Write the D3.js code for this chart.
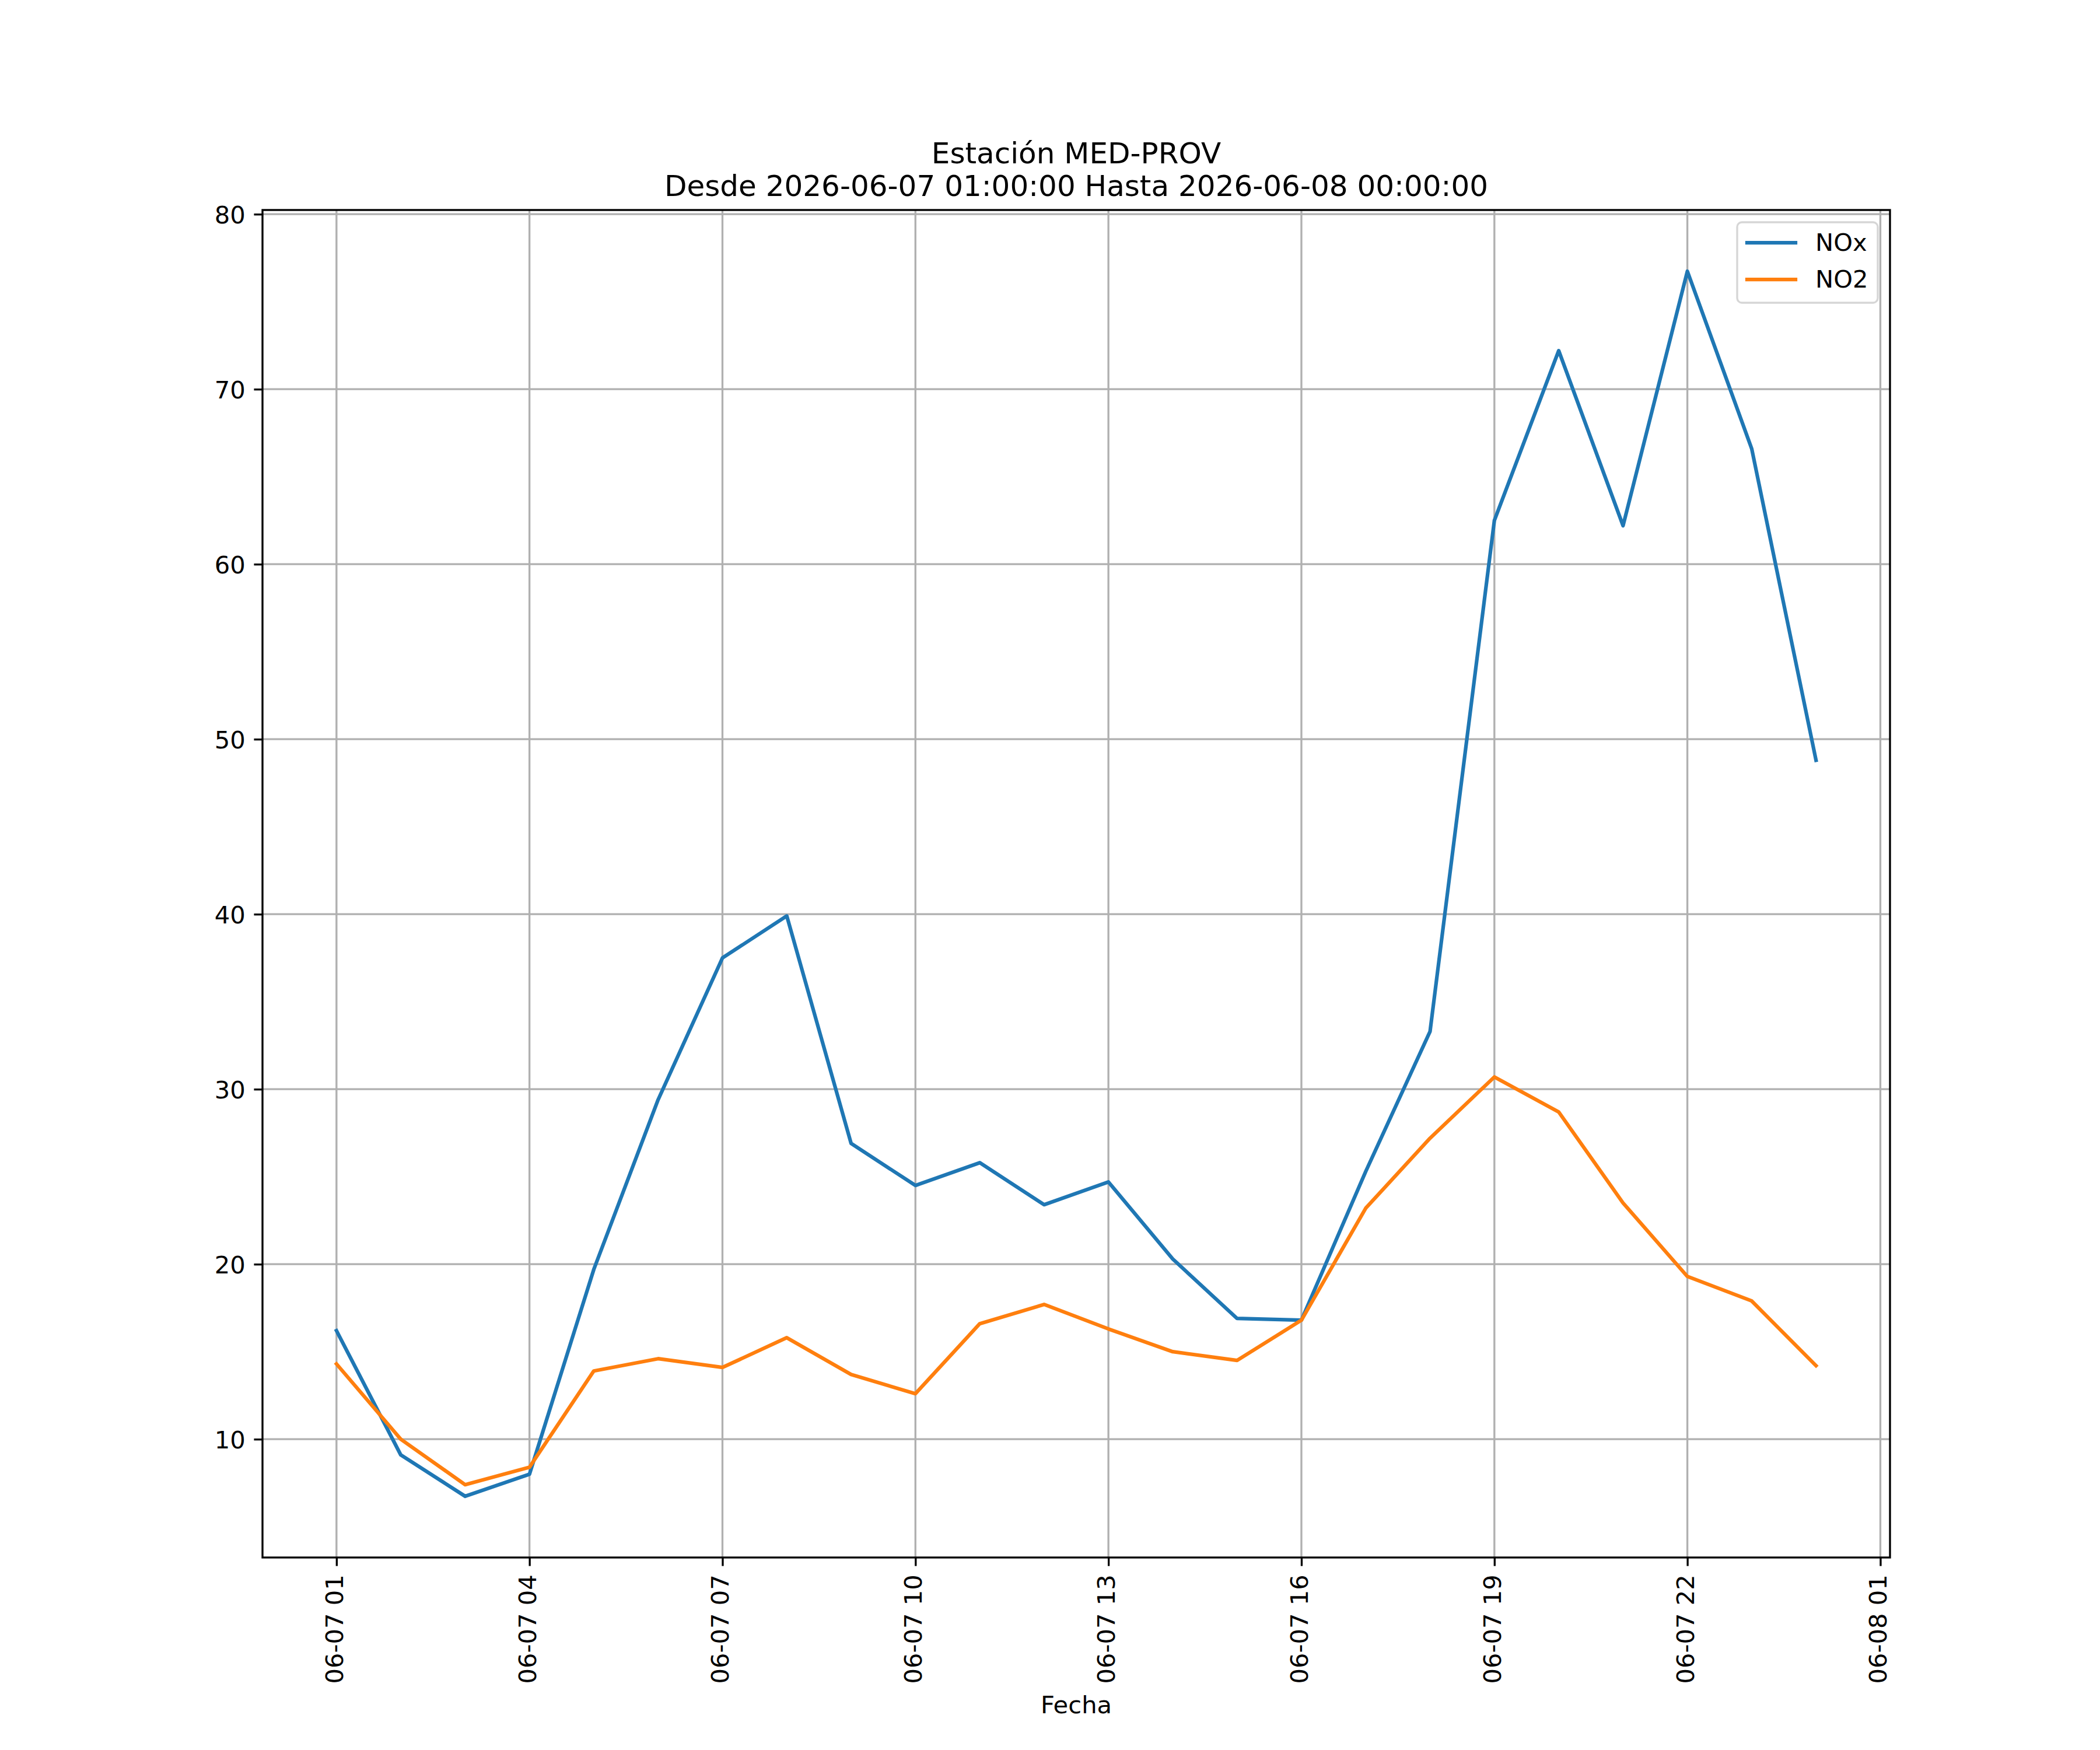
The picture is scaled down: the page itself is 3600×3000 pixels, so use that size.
<!DOCTYPE html>
<html>
<head>
<meta charset="utf-8">
<script src="https://cdn.jsdelivr.net/npm/d3@7"></script>
<style>
  html, body { margin: 0; padding: 0; background: #fff; }
  svg { display: block; }
  text { font-family: "DejaVu Sans", sans-serif; fill: #000; }
</style>
</head>
<body>
<svg id="chart"></svg>
<script>
// hours of 2026-06-07 (24 = 2026-06-08 00:00)
const hours = [1, 2, 3, 4, 5, 6, 7, 8, 9, 10, 11, 12, 13, 14, 15, 16, 17, 18, 19, 20, 21, 22, 23, 24];
const noxValues = [16.2, 9.1, 6.74, 8.0, 19.7, 29.4, 37.5, 39.9, 26.9, 24.5, 25.8, 23.4,
  24.7, 20.3, 16.9, 16.8, 25.3, 33.3, 62.5, 72.2, 62.2, 76.74, 66.6, 48.8];
const no2Values = [14.3, 10.0, 7.4, 8.4, 13.9, 14.6, 14.1, 15.8, 13.7, 12.6, 16.6, 17.7,
  16.3, 15.0, 14.5, 16.8, 23.2, 27.2, 30.7, 28.7, 23.5, 19.3, 17.9, 14.2];
const seriesNames = ['NOx', 'NO2'];
const seriesColors = ['#1f77b4', '#ff7f0e'];
const xTickHours = [1, 4, 7, 10, 13, 16, 19, 22, 25];
const xTickLabels = ['06-07 01', '06-07 04', '06-07 07', '06-07 10', '06-07 13', '06-07 16', '06-07 19', '06-07 22', '06-08 01'];
const yTicks = [10, 20, 30, 40, 50, 60, 70, 80];
const titleLines = ['Estación MED-PROV', 'Desde 2026-06-07 01:00:00 Hasta 2026-06-08 00:00:00'];
const xLabel = 'Fecha';

const W = 3600, H = 3000;
const margin = { top: 360, right: 360, bottom: 330, left: 450 };
const width = W - margin.left - margin.right;
const height = H - margin.top - margin.bottom;
const pt = 300 / 72;
const fontSize = 10 * pt;
const tickLen = 3.5 * pt;
const tickPad = 3.5 * pt;
const thin = 0.8 * pt;

const base = Date.UTC(2026, 5, 7, 0, 0, 0);
const toDate = h => new Date(base + h * 3600 * 1000);

const svg = d3.select('#chart').attr('width', W).attr('height', H);
const g = svg.append('g').attr('transform', `translate(${margin.left},${margin.top})`);

const series = seriesNames.map((name, i) => ({
  name,
  color: seriesColors[i],
  values: (i === 0 ? noxValues : no2Values).map((v, j) => ({ t: toDate(hours[j]), v }))
}));

// matplotlib style 5% margins
const tExt = d3.extent(hours.map(toDate));
const tPad = (tExt[1] - tExt[0]) * 0.05;
const x = d3.scaleUtc()
  .domain([new Date(+tExt[0] - tPad), new Date(+tExt[1] + tPad)])
  .range([0, width]);

const allVals = noxValues.concat(no2Values);
const vExt = d3.extent(allVals);
const vPad = (vExt[1] - vExt[0]) * 0.05;
const y = d3.scaleLinear()
  .domain([vExt[0] - vPad, vExt[1] + vPad])
  .range([height, 0]);

const xTickDates = xTickHours.map(toDate);

// grid
const grid = g.append('g').attr('class', 'grid');
grid.selectAll('line.gx').data(xTickDates).join('line')
  .attr('class', 'gx')
  .attr('x1', d => x(d)).attr('x2', d => x(d))
  .attr('y1', 0).attr('y2', height)
  .attr('stroke', '#b0b0b0').attr('stroke-width', thin);
grid.selectAll('line.gy').data(yTicks).join('line')
  .attr('class', 'gy')
  .attr('x1', 0).attr('x2', width)
  .attr('y1', d => y(d)).attr('y2', d => y(d))
  .attr('stroke', '#b0b0b0').attr('stroke-width', thin);

// lines
const line = d3.line().x(d => x(d.t)).y(d => y(d.v));
g.selectAll('path.series').data(series).join('path')
  .attr('class', 'series')
  .attr('d', d => line(d.values))
  .attr('fill', 'none')
  .attr('stroke', d => d.color)
  .attr('stroke-width', 1.5 * pt)
  .attr('stroke-linejoin', 'round')
  .attr('stroke-linecap', 'square');

// axes
const xAxis = d3.axisBottom(x)
  .tickValues(xTickDates)
  .tickFormat((d, i) => xTickLabels[i])
  .tickSizeInner(tickLen)
  .tickSizeOuter(0);
const xg = g.append('g').attr('transform', `translate(0,${height})`).call(xAxis);
xg.select('.domain').remove();
xg.attr('font-family', null).attr('font-size', null);
xg.selectAll('.tick line').attr('stroke', '#000').attr('stroke-width', thin);
xg.selectAll('.tick text')
  .attr('transform', `translate(0,${tickLen + tickPad}) rotate(-90)`)
  .attr('x', 0).attr('y', 10.5).attr('dy', null)
  .attr('text-anchor', 'end')
  .style('font-size', fontSize + 'px');

const yAxis = d3.axisLeft(y)
  .tickValues(yTicks)
  .tickFormat(d3.format('d'))
  .tickSizeInner(tickLen)
  .tickSizeOuter(0)
  .tickPadding(tickPad);
const yg = g.append('g').call(yAxis);
yg.select('.domain').remove();
yg.attr('font-family', null).attr('font-size', null);
yg.selectAll('.tick line').attr('stroke', '#000').attr('stroke-width', thin);
yg.selectAll('.tick text')
  .attr('dy', '0.36em')
  .style('font-size', fontSize + 'px');

// spines
g.append('rect')
  .attr('x', 0).attr('y', 0).attr('width', width).attr('height', height)
  .attr('fill', 'none').attr('stroke', '#000').attr('stroke-width', thin);

// title
svg.append('text')
  .attr('x', margin.left + width / 2)
  .attr('text-anchor', 'middle')
  .style('font-size', (12 * pt) + 'px')
  .selectAll('tspan').data(titleLines).join('tspan')
  .attr('x', margin.left + width / 2)
  .attr('y', (d, i) => 280 + i * 56)
  .text(d => d);

// x label
svg.append('text')
  .attr('x', margin.left + width / 2)
  .attr('y', 2937)
  .attr('text-anchor', 'middle')
  .style('font-size', fontSize + 'px')
  .text(xLabel);

// legend
const legend = svg.append('g').attr('transform', 'translate(2978,381)');
legend.append('rect')
  .attr('x', 0).attr('y', 0).attr('width', 241).attr('height', 138)
  .attr('rx', 8).attr('ry', 8)
  .attr('fill', '#fff').attr('fill-opacity', 0.8)
  .attr('stroke', '#d6d6d6').attr('stroke-width', thin);
const items = legend.selectAll('g.item').data(series).join('g')
  .attr('class', 'item')
  .attr('transform', (d, i) => `translate(0,${35 + i * 63})`);
items.append('line')
  .attr('x1', 17).attr('x2', 100)
  .attr('stroke', d => d.color)
  .attr('stroke-width', 1.5 * pt)
  .attr('stroke-linecap', 'square');
items.append('text')
  .attr('x', 134)
  .attr('y', 14)
  .style('font-size', fontSize + 'px')
  .text(d => d.name);
</script>
</body>
</html>
